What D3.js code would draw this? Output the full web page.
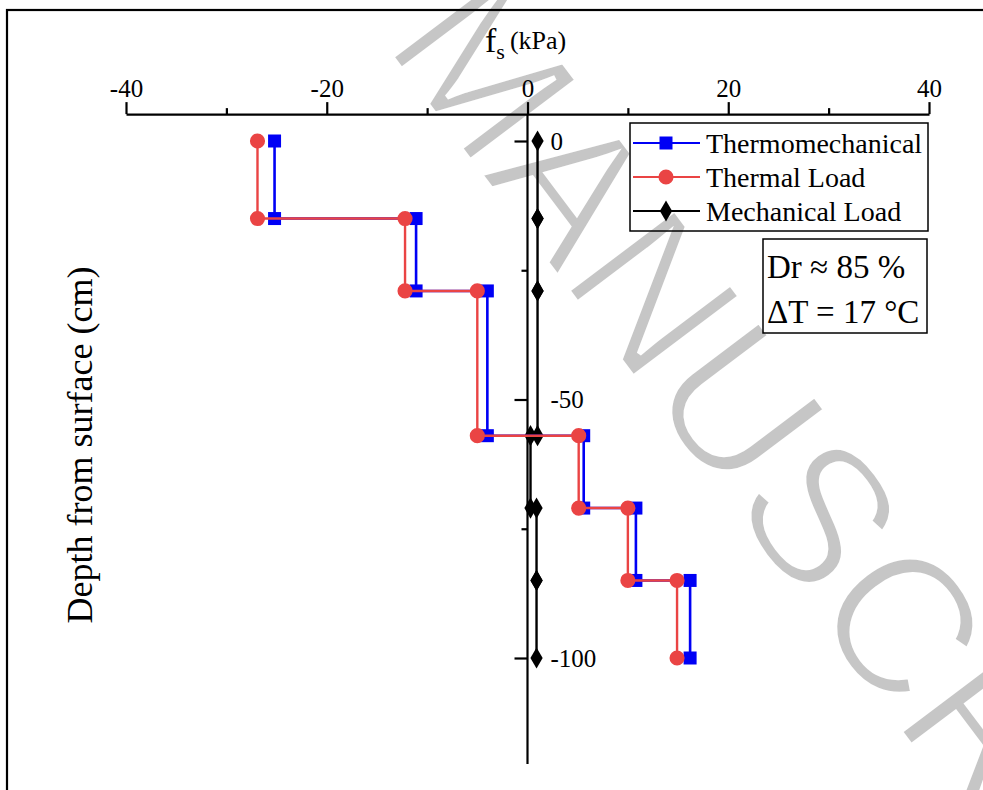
<!DOCTYPE html>
<html>
<head>
<meta charset="utf-8">
<script src="https://cdn.jsdelivr.net/npm/d3@7"></script>
<style>
  body { margin: 0; background: white; }
  svg { display: block; }
</style>
</head>
<body>
<div id="chart"></div>
<script>
// layer boundaries (cm) and the skin friction of each layer (kPa)
const depths = [0, -15, -29, -57, -71, -85, -100];
const thermomechanical = [-25.2, -11.1, -4.0, 5.6, 10.8, 16.2];
const thermalLoad = [-26.9, -12.2, -5.0, 5.1, 10.0, 14.9];
const mechanicalLoad = [1.0, 1.0, 1.0, 0.3, 0.9, 0.9];

const seriesNames = ["Thermomechanical", "Thermal Load", "Mechanical Load"];
const xMajorTicks = [-40, -20, 0, 20, 40];
const xMinorTicks = [-30, -10, 10, 30];
const yMajorTicks = [0, -50, -100];
const yMinorTicks = [-25, -75];
const notes = ["Dr \u2248 85 %", "\u0394T = 17 \u00b0C"];

const width = 983;
const height = 790;
const serif = "'Liberation Serif', 'Times New Roman', serif";
const fmt = (d) => (d < 0 ? "-" + Math.abs(d) : String(d));

const svg = d3
  .select("#chart")
  .append("svg")
  .attr("width", width)
  .attr("height", height)
  .attr("viewBox", [0, 0, width, height]);

// watermark, sits under everything; white outline thins the strokes
svg
  .append("text")
  .attr("transform", "translate(382,44) rotate(53)")
  .attr("font-family", "'Liberation Sans', Arial, sans-serif")
  .attr("font-size", 195)
  .attr("fill", "#c6c6c6")
  .attr("stroke", "#fff")
  .attr("stroke-width", 5)
  .text("MANUSCRIPT");

// outer frame
svg
  .append("rect")
  .attr("x", 7)
  .attr("y", 10)
  .attr("width", width + 10)
  .attr("height", height + 10)
  .attr("fill", "none")
  .attr("stroke", "#000")
  .attr("stroke-width", 2.2);

const xScale = d3.scaleLinear().domain([-40, 40]).range([126, 929]);
const yScale = d3.scaleLinear().domain([0, -100]).range([141, 658]);
const yTop = 5.2;
const yBottom = -120.5;

// x axis along the top
const gx = svg.append("g").attr("transform", `translate(0, ${yScale(yTop)})`);
gx.call(d3.axisTop(xScale).tickValues(xMajorTicks).tickSize(12).tickSizeOuter(0).tickPadding(5).tickFormat(fmt));
gx.attr("font-family", serif).attr("font-size", 25);
gx.selectAll("text").attr("fill", "#000");
const gxMinor = gx.append("g").call(d3.axisTop(xScale).tickValues(xMinorTicks).tickSize(6).tickFormat(() => ""));
gxMinor.select(".domain").remove();
gx.selectAll("line, .domain").attr("stroke-width", 2.2);

// y axis through x = 0, labels on the right of the line
const gy = svg.append("g").attr("transform", `translate(${xScale(0)}, 0)`);
gy.call(d3.axisLeft(yScale).tickValues(yMajorTicks).tickSize(13).tickSizeOuter(0).tickFormat(fmt));
gy.attr("font-family", serif).attr("font-size", 25);
gy.selectAll("text").attr("fill", "#000").attr("x", 23).attr("text-anchor", "start");
gy.append("g").call(d3.axisLeft(yScale).tickValues(yMinorTicks).tickSize(6).tickFormat(() => ""));
gy.selectAll(".domain").remove();
gy.append("line")
  .attr("y1", yScale(yTop))
  .attr("y2", yScale(yBottom))
  .attr("stroke", "#000");
gy.selectAll("line").attr("stroke-width", 2.2);

// axis titles
const title = svg
  .append("text")
  .attr("x", 485)
  .attr("y", 52)
  .attr("font-family", serif)
  .attr("fill", "#000");
title.append("tspan").attr("font-size", 34).text("f");
title.append("tspan").attr("font-size", 22).attr("dy", 7).text("s");
title.append("tspan").attr("font-size", 26).attr("dy", -10).attr("dx", 5).text("(kPa)");

svg
  .append("text")
  .attr("transform", `translate(92, 445) rotate(-90)`)
  .attr("text-anchor", "middle")
  .attr("font-family", serif)
  .attr("font-size", 36)
  .attr("fill", "#000")
  .text("Depth from surface (cm)");

// step profiles: each layer gives a point at its top and bottom
const stepPoints = (values) =>
  values.flatMap((v, i) => [
    { x: v, y: depths[i] },
    { x: v, y: depths[i + 1] },
  ]);

const line = d3
  .line()
  .x((d) => xScale(d.x))
  .y((d) => yScale(d.y));

const series = [
  { name: seriesNames[0], values: thermomechanical, color: "#0000f5", width: 2.6, symbol: d3.symbolSquare, size: 169 },
  { name: seriesNames[1], values: thermalLoad, color: "#ea4444", width: 2.4, symbol: d3.symbolCircle, size: 180 },
  { name: seriesNames[2], values: mechanicalLoad, color: "#000000", width: 2.4, symbol: d3.symbolDiamond, size: 130 },
];

const plot = svg.append("g");
// black first, then blue, red on top
[series[2], series[0], series[1]].forEach((s) => {
  const pts = stepPoints(s.values);
  plot
    .append("path")
    .datum(pts)
    .attr("d", line)
    .attr("fill", "none")
    .attr("stroke", s.color)
    .attr("stroke-width", s.width);
  plot
    .append("g")
    .selectAll("path")
    .data(pts)
    .enter()
    .append("path")
    .attr("transform", (d) => `translate(${xScale(d.x)}, ${yScale(d.y)})`)
    .attr("d", d3.symbol(s.symbol, s.size))
    .attr("fill", s.color);
});

// legend (no fill, the watermark shows through)
const legend = svg.append("g");
legend
  .append("rect")
  .attr("x", 630)
  .attr("y", 123)
  .attr("width", 298)
  .attr("height", 108)
  .attr("fill", "none")
  .attr("stroke", "#000")
  .attr("stroke-width", 1.5);
series.forEach((s, i) => {
  const cy = 143 + i * 34;
  legend
    .append("line")
    .attr("x1", 633)
    .attr("x2", 700)
    .attr("y1", cy)
    .attr("y2", cy)
    .attr("stroke", s.color)
    .attr("stroke-width", 2);
  legend
    .append("path")
    .attr("transform", `translate(666, ${cy})`)
    .attr("d", d3.symbol(s.symbol, s.size))
    .attr("fill", s.color);
  legend
    .append("text")
    .attr("x", 706)
    .attr("y", cy + 10)
    .attr("font-family", serif)
    .attr("font-size", 28)
    .attr("fill", "#000")
    .text(s.name);
});

// conditions box
const note = svg.append("g");
note
  .append("rect")
  .attr("x", 763)
  .attr("y", 239)
  .attr("width", 164)
  .attr("height", 94)
  .attr("fill", "none")
  .attr("stroke", "#000")
  .attr("stroke-width", 1.5);
notes.forEach((t, i) => {
  note
    .append("text")
    .attr("x", 767)
    .attr("y", 278 + i * 45)
    .attr("font-family", serif)
    .attr("font-size", 33)
    .attr("fill", "#000")
    .text(t);
});
</script>
</body>
</html>
